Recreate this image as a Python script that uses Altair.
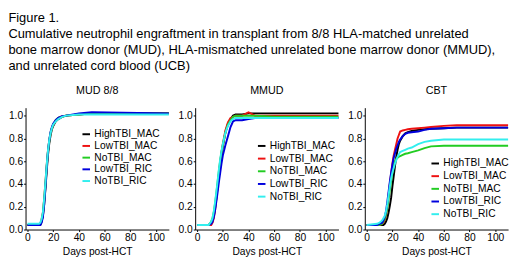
import altair as alt
import pandas as pd

FONT = "Liberation Sans"

title_lines = [
    "Figure 1.",
    "Cumulative neutrophil engraftment in transplant from 8/8 HLA-matched unrelated",
    "bone marrow donor (MUD), HLA-mismatched unrelated bone marrow donor (MMUD),",
    " and unrelated cord blood (UCB)",
]

groups = ["HighTBI_MAC", "LowTBI_MAC", "NoTBI_MAC", "LowTBI_RIC", "NoTBI_RIC"]
colors = ["#000000", "#ee1111", "#22cc22", "#0000dd", "#33eeee"]

panel_titles = ["MUD 8/8", "MMUD", "CBT"]

# --- MUD 8/8 ---
mud_days = [0, 9, 10, 11, 12, 13, 14, 15, 16, 17, 18, 19, 20, 22, 24, 27, 30, 40, 50, 110]
mud_high_mac = [0.04, 0.04, 0.04, 0.07, 0.12, 0.22, 0.36, 0.52, 0.66, 0.76, 0.83, 0.88, 0.91, 0.95, 0.97, 0.99, 1.0, 1.01, 1.02, 1.02]
mud_low_mac = [0.04, 0.04, 0.05, 0.09, 0.15, 0.27, 0.42, 0.57, 0.70, 0.79, 0.85, 0.89, 0.92, 0.96, 0.98, 0.995, 1.0, 1.01, 1.02, 1.02]
mud_no_mac = [0.04, 0.04, 0.05, 0.08, 0.14, 0.26, 0.40, 0.56, 0.69, 0.78, 0.85, 0.89, 0.92, 0.96, 0.98, 0.99, 1.0, 1.01, 1.02, 1.02]
mud_low_ric = [0.04, 0.04, 0.04, 0.06, 0.11, 0.22, 0.38, 0.55, 0.69, 0.79, 0.86, 0.90, 0.93, 0.96, 0.98, 0.995, 1.0, 1.02, 1.03, 1.02]
mud_no_ric = [0.05, 0.05, 0.06, 0.09, 0.15, 0.27, 0.42, 0.57, 0.70, 0.79, 0.85, 0.89, 0.92, 0.95, 0.97, 0.99, 1.0, 1.01, 1.01, 1.01]

# --- MMUD ---
mm_days = [0, 9, 11, 12, 13, 14, 15, 16, 17, 18, 19, 20, 22, 24, 26, 28, 30, 35, 40, 45, 60, 110]
mm_high_mac = [0.04, 0.04, 0.05, 0.07, 0.12, 0.19, 0.28, 0.38, 0.48, 0.58, 0.66, 0.73, 0.85, 0.93, 0.97, 1.0, 1.01, 1.01, 1.02, 1.02, 1.02, 1.02]
mm_low_mac = [0.04, 0.04, 0.04, 0.06, 0.10, 0.17, 0.27, 0.38, 0.49, 0.59, 0.68, 0.75, 0.87, 0.94, 0.98, 0.99, 1.0, 1.0, 1.03, 1.0, 1.0, 1.0]
mm_no_mac = [0.04, 0.04, 0.07, 0.10, 0.155, 0.23, 0.32, 0.42, 0.52, 0.61, 0.68, 0.74, 0.85, 0.92, 0.96, 0.99, 1.0, 1.0, 1.0, 1.0, 0.99, 0.99]
mm_low_ric = [0.04, 0.04, 0.05, 0.07, 0.11, 0.17, 0.25, 0.33, 0.42, 0.50, 0.58, 0.65, 0.74, 0.82, 0.90, 0.95, 0.96, 0.96, 0.97, 0.98, 0.98, 0.98]
mm_no_ric = [0.04, 0.04, 0.07, 0.10, 0.16, 0.24, 0.33, 0.43, 0.53, 0.62, 0.69, 0.75, 0.85, 0.91, 0.95, 0.97, 0.98, 0.98, 0.98, 0.98, 0.98, 0.98]

# --- CBT ---
cb_days = [0, 8, 10, 12, 13, 14, 15, 16, 17, 18, 19, 20, 21, 22, 23, 24, 25, 26, 28, 30, 32, 35, 40, 45, 50, 60, 70, 110]
cb_high_mac = [0.04, 0.04, 0.04, 0.04, 0.04, 0.05, 0.07, 0.10, 0.15, 0.21, 0.28, 0.38, 0.47, 0.56, 0.64, 0.70, 0.75, 0.78, 0.82, 0.845, 0.855, 0.865, 0.875, 0.88, 0.885, 0.89, 0.895, 0.895]
cb_low_mac = [0.04, 0.04, 0.04, 0.05, 0.06, 0.08, 0.12, 0.20, 0.30, 0.40, 0.49, 0.58, 0.65, 0.70, 0.75, 0.80, 0.83, 0.86, 0.87, 0.875, 0.88, 0.885, 0.89, 0.895, 0.90, 0.91, 0.915, 0.915]
cb_no_mac = [0.04, 0.04, 0.04, 0.05, 0.07, 0.09, 0.13, 0.19, 0.27, 0.35, 0.43, 0.50, 0.56, 0.60, 0.62, 0.63, 0.64, 0.645, 0.655, 0.665, 0.67, 0.68, 0.695, 0.715, 0.73, 0.735, 0.735, 0.735]
cb_low_ric = [0.04, 0.04, 0.05, 0.06, 0.08, 0.11, 0.16, 0.24, 0.33, 0.42, 0.50, 0.57, 0.63, 0.67, 0.71, 0.74, 0.77, 0.79, 0.82, 0.84, 0.85, 0.855, 0.86, 0.875, 0.885, 0.89, 0.895, 0.895]
cb_no_ric = [0.04, 0.05, 0.06, 0.08, 0.10, 0.12, 0.16, 0.22, 0.30, 0.38, 0.45, 0.50, 0.54, 0.58, 0.61, 0.64, 0.66, 0.68, 0.69, 0.70, 0.71, 0.72, 0.75, 0.77, 0.78, 0.79, 0.79, 0.79]

panels = [
    (mud_days, [mud_high_mac, mud_low_mac, mud_no_mac, mud_low_ric, mud_no_ric]),
    (mm_days, [mm_high_mac, mm_low_mac, mm_no_mac, mm_low_ric, mm_no_ric]),
    (cb_days, [cb_high_mac, cb_low_mac, cb_no_mac, cb_low_ric, cb_no_ric]),
]

# legend x, legend y, row padding
legend_pos = [(57, 22, 1), (63, 34, 2), (67, 52, 2)]

W, H = 147, 125


def make_panel(i):
    days, series = panels[i]
    rows = []
    for gi, (g, vals) in enumerate(zip(groups, series)):
        for d, v in zip(days, vals):
            rows.append({"group": g, "gorder": gi, "day": d, "value": v})
    df = pd.DataFrame(rows)
    lx, ly, rp = legend_pos[i]
    return (
        alt.Chart(df)
        .mark_line(strokeWidth=2, interpolate="linear")
        .encode(
            x=alt.X(
                "day:Q",
                scale=alt.Scale(domain=[-1.5, 110], nice=False, zero=False),
                axis=alt.Axis(values=[0, 20, 40, 60, 80, 100], title="Days post-HCT"),
            ),
            y=alt.Y(
                "value:Q",
                scale=alt.Scale(domain=[0, 1.07], nice=False),
                axis=alt.Axis(values=[0, 0.2, 0.4, 0.6, 0.8, 1.0], format=".1f", title=None),
            ),
            color=alt.Color(
                "group:N",
                scale=alt.Scale(domain=groups, range=colors),
                legend=alt.Legend(
                    title=None,
                    orient="none",
                    legendX=lx,
                    legendY=ly,
                    symbolType="stroke",
                    symbolSize=60,
                    symbolStrokeWidth=2,
                    labelFont=FONT,
                    labelFontSize=10.5,
                    labelColor="black",
                    labelOffset=3,
                    rowPadding=rp,
                    padding=0,
                ),
            ),
            order=alt.Order("gorder:Q"),
            detail="group:N",
        )
        .properties(
            width=W,
            height=H,
            title=alt.TitleParams(
                panel_titles[i], fontSize=11, fontWeight="normal", font=FONT, color="black", offset=12
            ),
        )
    )


chart = (
    alt.hconcat(make_panel(0), make_panel(1), make_panel(2), spacing=5)
    .resolve_scale(color="independent")
    .resolve_legend(color="independent")
    .properties(
        padding=0,
        title=alt.TitleParams(
            title_lines,
            anchor="start",
            fontSize=13.2,
            fontWeight="normal",
            font=FONT,
            color="black",
            lineHeight=16.5,
            offset=12,
        ),
    )
    .configure_view(stroke=None)
    .configure_axis(
        labelFont=FONT,
        titleFont=FONT,
        labelFontSize=10.5,
        titleFontSize=10.5,
        titleFontWeight="normal",
        labelColor="black",
        titleColor="black",
        domainColor="black",
        tickColor="black",
        tickSize=2,
        labelPadding=1,
        titlePadding=4,
        grid=False,
    )
)

chart.save("out.html", embed_options={"renderer": "svg", "actions": False})
